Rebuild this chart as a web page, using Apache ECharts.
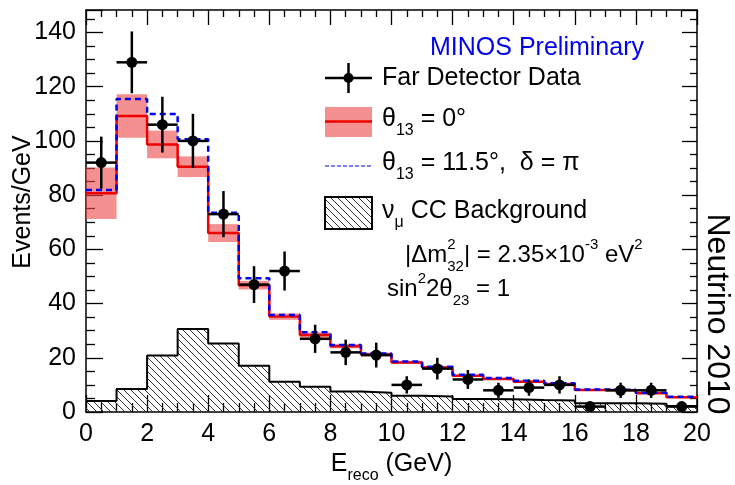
<!DOCTYPE html>
<html>
<head>
<meta charset="utf-8">
<script src="https://cdn.jsdelivr.net/npm/echarts@6/dist/echarts.min.js"></script>
<style>
  html, body { margin: 0; padding: 0; background: #fff; }
  #chart { width: 735px; height: 485px; }
</style>
</head>
<body>
<div id="chart"></div>
<script>
// ---- Far Detector spectrum, 1 GeV bins from 0 to 20 GeV ----
const binEdges = [0, 1, 2, 3, 4, 5, 6, 7, 8, 9, 10, 11, 12, 13, 14, 15, 16, 17, 18, 19, 20];

// observed events / GeV and their statistical errors
const dataCounts = [92, 129, 106, 100, 73, 47, 52, 27, 22, 21, 10, 16, 12, 8, 9, 10, 2, 8, 8, 2];
const dataErrors = [9.6, 11.4, 10.3, 10.0, 8.5, 6.8, 7.2, 5.2, 4.7, 4.6, 3.2, 4.0, 3.5, 2.8, 3.0, 3.2, 1.4, 2.8, 2.8, 1.4];

// prediction for theta13 = 0 with its systematic band (half-width)
const predTheta0 = [80.7, 109.2, 98.7, 90.5, 66.0, 46.8, 35.2, 28.4, 24.3, 21.2, 18.3, 16.4, 13.4, 12.2, 11.2, 10.3, 8.1, 8.0, 6.9, 5.4];
const bandHalf = [9.5, 8.0, 5.1, 3.8, 3.3, 1.6, 1.2, 1.0, 0.8, 0.7, 0.6, 0.5, 0.4, 0.4, 0.4, 0.3, 0.3, 0.3, 0.2, 0.2];

// prediction for theta13 = 11.5 deg, delta = pi
const predTheta115 = [81.9, 115.5, 109.9, 100.6, 73.5, 49.3, 35.8, 29.4, 24.7, 21.6, 18.6, 16.7, 13.7, 12.5, 11.5, 10.6, 8.3, 8.2, 7.1, 5.6];

// numu CC background
const bgNumuCC = [4.1, 8.5, 20.8, 30.6, 25.3, 17.1, 11.2, 9.3, 7.6, 7.1, 6.0, 5.7, 4.8, 4.7, 4.4, 4.2, 3.2, 3.2, 3.0, 2.2];

// axis ranges / ticks
const xRange = [0, 20], xStep = 2;
const yRange = [0, 148.3], yStep = 20;

const FONT = '"Liberation Sans", Arial, Helvetica, sans-serif';
const LBL = 25;

// step-histogram outline points: [edge, value] with the last value repeated at the upper edge
function stepPoints(vals) {
  const pts = vals.map((v, i) => [binEdges[i], v]);
  pts.push([binEdges[binEdges.length - 1], vals[vals.length - 1]]);
  return pts;
}

// diagonal hatch tile for the background fill
function hatchTile() {
  const s = 7;
  const c = document.createElement('canvas');
  c.width = s; c.height = s;
  const g = c.getContext('2d');
  g.strokeStyle = '#333';
  g.lineWidth = 1;
  g.beginPath();
  g.moveTo(-1, -1); g.lineTo(s + 1, s + 1);
  g.moveTo(-1, s - 1); g.lineTo(1, s + 1);
  g.moveTo(s - 1, -1); g.lineTo(s + 1, 1);
  g.stroke();
  return c;
}
const hatch = { image: hatchTile(), repeat: 'repeat' };
const bandColor = 'rgba(236, 70, 70, 0.6)';

// text with sub/superscripts laid out token by token
const measureCtx = document.createElement('canvas').getContext('2d');
function textWidth(s, size) {
  measureCtx.font = size + 'px ' + FONT;
  return measureCtx.measureText(s).width;
}
function mathText(x, y, parts, color, size) {
  const small = Math.round(size * 0.64);
  const els = [];
  let cx = x;
  const put = (t, px, dy, sz) => els.push({
    type: 'text', x: px, y: y + dy, z: 100,
    style: { text: t, font: sz + 'px ' + FONT, fill: color,
             textAlign: 'left', textVerticalAlign: 'middle', align: 'left', verticalAlign: 'middle' }
  });
  parts.forEach(p => {
    const [t, k, t2] = p;
    if (k === 'n') { put(t, cx, 0, size); cx += textWidth(t, size); }
    else if (k === 'sub') { put(t, cx, 12, small); cx += textWidth(t, small); }
    else if (k === 'sup') { put(t, cx, -10, small); cx += textWidth(t, small); }
    else if (k === 'supsub') {
      put(t, cx, -10, small); put(t2, cx, 12, small);
      cx += Math.max(textWidth(t, small), textWidth(t2, small));
    }
  });
  return els;
}
function mathWidth(parts, size) {
  const small = Math.round(size * 0.64);
  return parts.reduce((w, p) => w + textWidth(p[0], p[1] === 'n' ? size : small), 0);
}

const rows = dataCounts.map((v, i) => [(binEdges[i] + binEdges[i + 1]) / 2, v, dataErrors[i], binEdges[i], binEdges[i + 1]]);
const bandRows = predTheta0.map((v, i) => [binEdges[i], binEdges[i + 1], v, bandHalf[i]]);

const axisCommon = {
  type: 'value',
  splitLine: { show: false },
  axisLine: { show: true, onZero: false, lineStyle: { color: '#000', width: 1.5 } },
  axisTick: { show: true, inside: true, length: 17, lineStyle: { color: '#000', width: 1.3 } },
  minorTick: { show: true, splitNumber: 4, length: 9, lineStyle: { color: '#000', width: 1.3 } }
};

const chart = echarts.init(document.getElementById('chart'), null, { renderer: 'canvas' });

const legendX0 = 325, legendX1 = 372;
const graphics = [
  // axis titles and annotation
  { type: 'text', x: 23, y: 202, rotation: Math.PI / 2, z: 100,
    style: { text: 'Events/GeV', font: LBL + 'px ' + FONT, fill: '#000',
             textAlign: 'center', textVerticalAlign: 'middle', align: 'center', verticalAlign: 'middle' } },
  { type: 'text', x: 717, y: 314, rotation: -Math.PI / 2, z: 100,
    style: { text: 'Neutrino 2010', font: '32px ' + FONT, fill: '#000',
             textAlign: 'center', textVerticalAlign: 'middle', align: 'center', verticalAlign: 'middle' } },
  { type: 'text', x: 537, y: 48, z: 100,
    style: { text: 'MINOS Preliminary', font: LBL + 'px ' + FONT, fill: '#0000ee',
             textAlign: 'center', textVerticalAlign: 'middle', align: 'center', verticalAlign: 'middle' } },

  // legend: data
  { type: 'line', z: 100, shape: { x1: legendX0, y1: 78, x2: legendX1, y2: 78 }, style: { stroke: '#000', lineWidth: 2.5 } },
  { type: 'line', z: 100, shape: { x1: 348.5, y1: 63, x2: 348.5, y2: 93 }, style: { stroke: '#000', lineWidth: 2.5 } },
  { type: 'circle', z: 100, shape: { cx: 348.5, cy: 78, r: 5 }, style: { fill: '#000' } },
  // legend: theta13 = 0 band + line
  { type: 'rect', z: 100, shape: { x: legendX0, y: 107, width: legendX1 - legendX0, height: 30 }, style: { fill: bandColor } },
  { type: 'line', z: 100, shape: { x1: legendX0, y1: 121.5, x2: legendX1, y2: 121.5 }, style: { stroke: '#ee0000', lineWidth: 2.5 } },
  // legend: theta13 = 11.5 dashed
  { type: 'line', z: 100, shape: { x1: legendX0, y1: 166, x2: legendX1, y2: 166 }, style: { stroke: '#0000ee', lineWidth: 1.2, lineDash: [4, 2] } },
  // legend: hatched background box
  { type: 'rect', z: 100, shape: { x: legendX0, y: 197, width: legendX1 - legendX0, height: 32 }, style: { fill: hatch, stroke: '#000', lineWidth: 2 } }
];

graphics.push(...mathText(382, 78, [['Far Detector Data', 'n']], '#000', LBL));
graphics.push(...mathText(382, 119, [['θ', 'n'], ['13', 'sub'], [' = 0°', 'n']], '#000', LBL));
graphics.push(...mathText(382, 163, [['θ', 'n'], ['13', 'sub'], [' = 11.5°,  δ = π', 'n']], '#000', LBL));
graphics.push(...mathText(382, 211, [['ν', 'n'], ['μ', 'sub'], [' CC Background', 'n']], '#000', LBL));
graphics.push(...mathText(405, 255, [['|Δm', 'n'], ['2', 'supsub', '32'], ['| = 2.35×10', 'n'], ['-3', 'sup'], [' eV', 'n'], ['2', 'sup']], '#000', 24));
graphics.push(...mathText(387, 289, [['sin', 'n'], ['2', 'sup'], ['2θ', 'n'], ['23', 'sub'], [' = 1', 'n']], '#000', 24));

const option = {
  animation: false,
  backgroundColor: '#fff',
  grid: { left: 86, right: 38, top: 10, bottom: 73, containLabel: false, outerBoundsMode: 'none' },
  xAxis: [
    Object.assign({}, axisCommon, {
      position: 'bottom', min: xRange[0], max: xRange[1], interval: xStep,
      axisLabel: { show: true, fontSize: 25, fontFamily: FONT, color: '#000', margin: 10 }
    }),
    Object.assign({}, axisCommon, {
      position: 'top', min: xRange[0], max: xRange[1], interval: xStep,
      axisTick: Object.assign({}, axisCommon.axisTick, { length: 15 }),
      minorTick: Object.assign({}, axisCommon.minorTick, { length: 7 }),
      axisLabel: { show: false }
    })
  ],
  yAxis: [
    Object.assign({}, axisCommon, {
      position: 'left', min: yRange[0], max: yRange[1], interval: yStep,
      axisLabel: { show: true, fontSize: 25, fontFamily: FONT, color: '#000', margin: 10, showMaxLabel: false }
    }),
    Object.assign({}, axisCommon, {
      position: 'right', min: yRange[0], max: yRange[1], interval: yStep,
      axisTick: Object.assign({}, axisCommon.axisTick, { length: 15 }),
      minorTick: Object.assign({}, axisCommon.minorTick, { length: 7 }),
      axisLabel: { show: false }
    })
  ],
  series: [
    {
      name: 'numu CC background', type: 'line', step: 'end', z: 1,
      data: stepPoints(bgNumuCC), symbol: 'none',
      lineStyle: { color: '#000', width: 2 },
      areaStyle: { color: hatch, opacity: 1 }
    },
    {
      name: 'theta13 = 0 band', type: 'custom', z: 2,
      data: bandRows,
      renderItem(params, api) {
        const lo = api.value(0), hi = api.value(1), v = api.value(2), e = api.value(3);
        const p1 = api.coord([lo, v + e]), p2 = api.coord([hi, v - e]);
        return { type: 'rect', shape: { x: p1[0], y: p1[1], width: p2[0] - p1[0], height: p2[1] - p1[1] },
                 style: { fill: bandColor } };
      }
    },
    {
      name: 'theta13 = 0', type: 'line', step: 'end', z: 3,
      data: stepPoints(predTheta0), symbol: 'none',
      lineStyle: { color: '#ee0000', width: 2.5 }
    },
    {
      name: 'theta13 = 11.5', type: 'line', step: 'end', z: 4,
      data: stepPoints(predTheta115), symbol: 'none',
      lineStyle: { color: '#0000ee', width: 2.5, type: [6, 4] }
    },
    {
      name: 'Far Detector Data', type: 'custom', z: 5,
      data: rows,
      renderItem(params, api) {
        const x = api.value(0), v = api.value(1), e = api.value(2), lo = api.value(3), hi = api.value(4);
        const c = api.coord([x, v]);
        const l = api.coord([lo, v]), r = api.coord([hi, v]);
        const t = api.coord([x, v + e]), b = api.coord([x, v - e]);
        return {
          type: 'group',
          children: [
            { type: 'line', shape: { x1: l[0], y1: l[1], x2: r[0], y2: r[1] }, style: { stroke: '#000', lineWidth: 2.5 } },
            { type: 'line', shape: { x1: t[0], y1: t[1], x2: b[0], y2: b[1] }, style: { stroke: '#000', lineWidth: 2.5 } },
            { type: 'circle', shape: { cx: c[0], cy: c[1], r: 5.5 }, style: { fill: '#000' } }
          ]
        };
      }
    }
  ],
  graphic: graphics
};

chart.setOption(option);

// x-axis title with subscript, centred under the plot area
const gridRect = chart.getModel().getComponent('grid').coordinateSystem.getRect();
const xTitle = [['E', 'n'], ['reco', 'sub'], [' (GeV)', 'n']];
const xTitleW = mathWidth(xTitle, LBL);
chart.setOption({
  graphic: graphics.concat(mathText(gridRect.x + gridRect.width / 2 - xTitleW / 2, 464, xTitle, '#000', LBL))
});
</script>
</body>
</html>
